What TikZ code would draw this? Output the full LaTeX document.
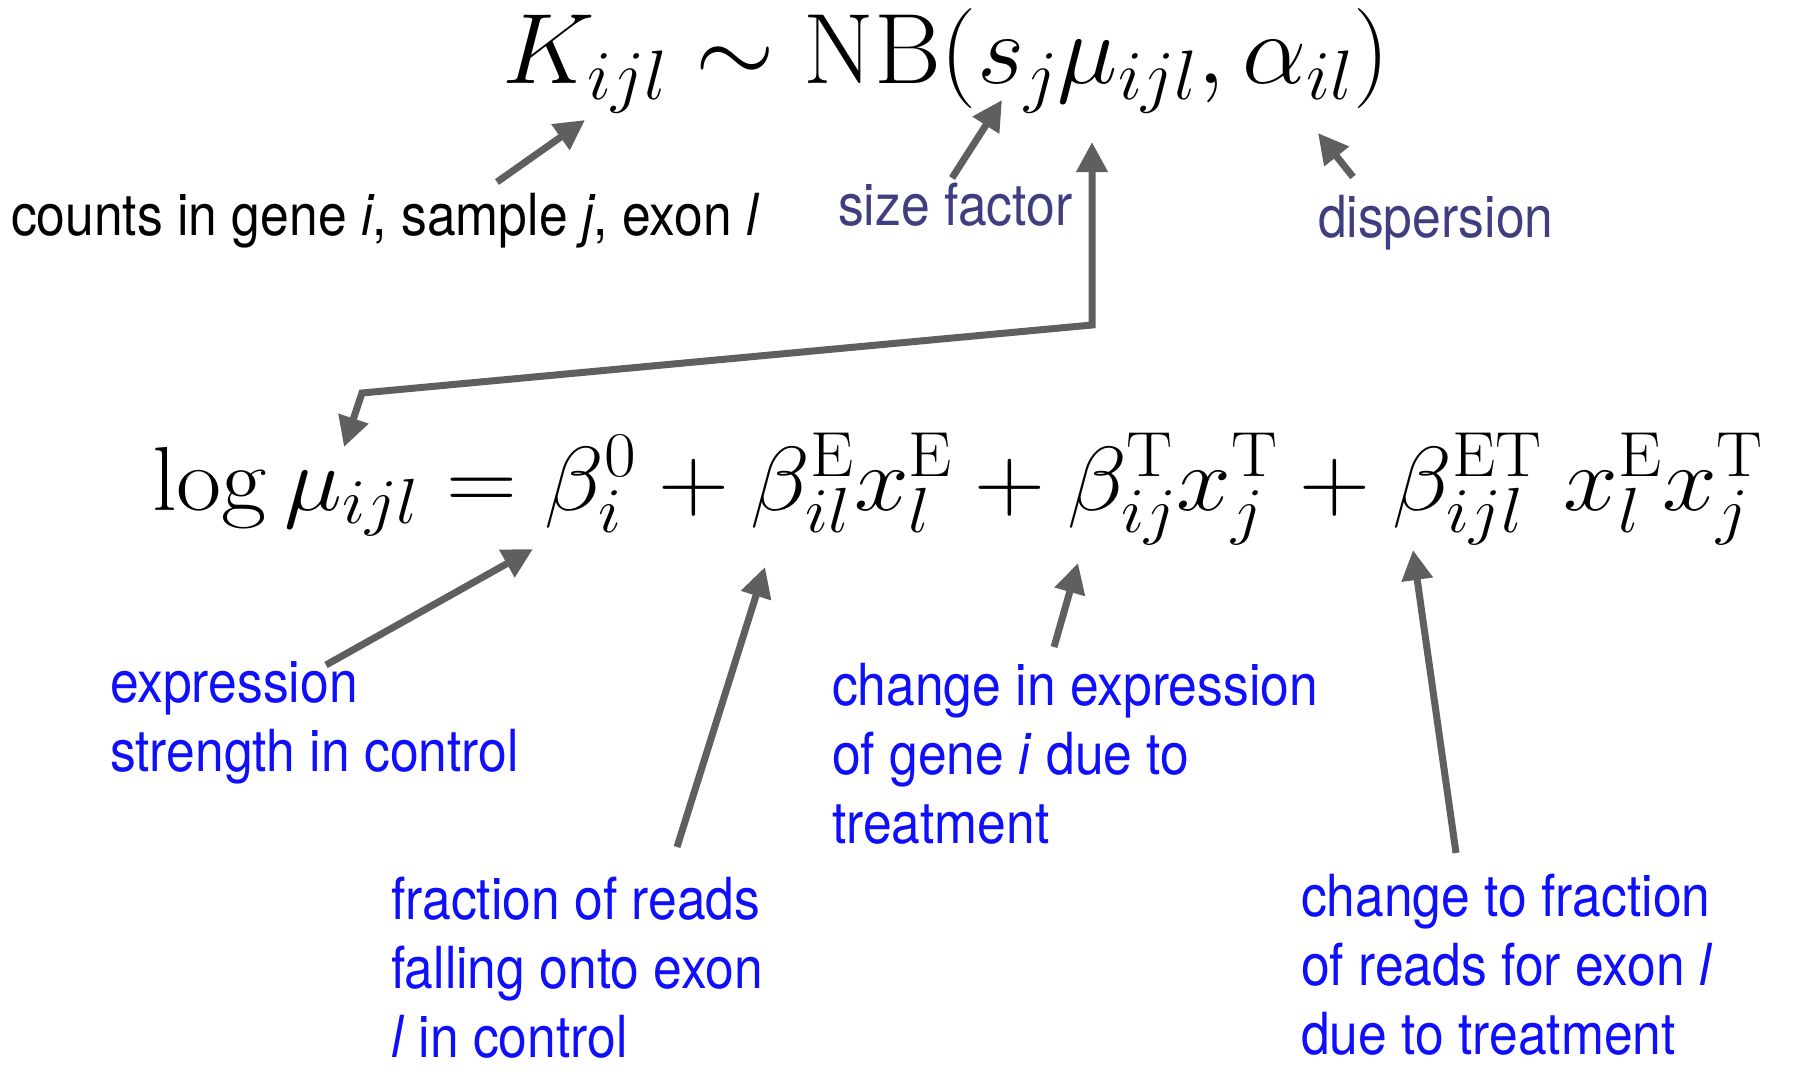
\RequirePackage{fix-cm}
\documentclass[tikz,border=0pt]{standalone}
\usepackage[no-math]{fontspec}
\newfontfamily\lblfont{TeX Gyre Heros}[FakeStretch=0.89]
\usetikzlibrary{arrows.meta}
\definecolor{arrgray}{RGB}{95,95,95}
\definecolor{lblblue}{RGB}{15,15,250}
\definecolor{lblslate}{RGB}{62,62,128}

\begin{document}
\begin{tikzpicture}[x=1pt,y=-1pt,
  every node/.style={inner sep=0pt,outer sep=0pt},
  bigeq/.style={font=\fontsize{100}{120}\selectfont},
  modeleq/.style={font=\fontsize{91}{110}\selectfont},
  lbl/.style={font=\lblfont\fontsize{58}{69}\selectfont,align=left},
  arr/.style={arrgray,line width=7pt,-{Triangle[length=30pt,width=30pt]}},
  dblarr/.style={arrgray,line width=7pt,{Triangle[length=30pt,width=30pt]}-{Triangle[length=30pt,width=30pt]}}]
\useasboundingbox (0,0) rectangle (1798,1081);
\node[bigeq,anchor=base west] (nb) at (502,84) {\scalebox{1.022}[1]{$K_{ijl}\sim\mathrm{NB}(s_j\mu_{ijl},\alpha_{il})$}};
\node[modeleq,anchor=base west] (lin) at (152,510) {\scalebox{1.08}[1]{$\log\mu_{ijl}=\beta_i^0+\beta_{il}^{\mathrm{E}}x_l^{\mathrm{E}}+\beta_{ij}^{\mathrm{T}}x_j^{\mathrm{T}}+\beta_{ijl}^{\mathrm{ET}}\:x_l^{\mathrm{E}}x_j^{\mathrm{T}}$}};
\node[lbl,anchor=base west] (cnt) at (11,235) {counts in gene \textit{i}, sample \textit{j}, exon \textit{l}};
\node[lbl,lblslate,anchor=base west] (szf) at (838,225) {size factor};
\node[lbl,lblslate,anchor=base west] (dsp) at (1318,237) {dispersion};
\node[lbl,lblblue,anchor=base west] (exs) at (110,771) {expression\\strength in control};
\node[lbl,lblblue,anchor=base west] (chx) at (832,843) {change in expression\\of gene \textit{i} due to\\treatment};
\node[lbl,lblblue,anchor=base west] (frc) at (391,1057) {fraction of reads\\falling onto exon\\\textit{l} in control};
\node[lbl,lblblue,anchor=base west] (chf) at (1301,1054) {change to fraction\\of reads for exon \textit{l}\\due to treatment};
\coordinate (cntT) at (497,182); \coordinate (Kidx) at (585,120);
\coordinate (szfT) at (952,178); \coordinate (sj) at (1002,100);
\coordinate (dspT) at (1353,177); \coordinate (alph) at (1318,133);
\coordinate (muTop) at (1092,142); \coordinate (muBot) at (344,447);
\coordinate (bendL) at (362,393); \coordinate (bendR) at (1092,325);
\coordinate (exsT) at (326,665); \coordinate (b0) at (533,549);
\coordinate (frcT) at (677,847); \coordinate (bE) at (765,567);
\coordinate (chxT) at (1054,647); \coordinate (bT) at (1078,563);
\coordinate (chfT) at (1456,853); \coordinate (bET) at (1413,550);
\draw[arr] (cntT) -- (Kidx);
\draw[arr] (szfT) -- (sj);
\draw[arr] (dspT) -- (alph);
\draw[dblarr] (muBot) -- (bendL) -- (bendR) -- (muTop);
\draw[arr] (exsT) -- (b0);
\draw[arr] (frcT) -- (bE);
\draw[arr] (chxT) -- (bT);
\draw[arr] (chfT) -- (bET);
\end{tikzpicture}
\end{document}
